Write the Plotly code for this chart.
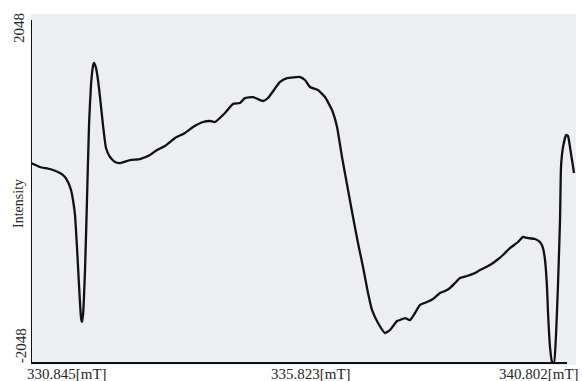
import plotly.graph_objects as go

# Magnetic field [mT] and EPR intensity
field_mT = [
    330.845, 331.009, 331.192, 331.375, 331.466, 331.521, 331.576, 331.612, 331.649, 331.685,
    331.722, 331.759, 331.777, 331.795, 331.832, 331.868, 331.905, 331.941, 331.978, 331.996,
    332.033, 332.069, 332.106, 332.160, 332.215, 332.288, 332.380, 332.471, 332.654, 332.836,
    333.019, 333.147, 333.293, 333.476, 333.659, 333.805, 333.987, 334.115, 334.207, 334.389,
    334.536, 334.663, 334.755, 334.901, 335.084, 335.175, 335.394, 335.522, 335.760, 335.851,
    335.942, 336.088, 336.216, 336.344, 336.436, 336.527, 336.637, 336.728, 336.819, 336.911,
    337.002, 337.075, 337.185, 337.313, 337.404, 337.532, 337.587, 337.678, 337.769, 337.861,
    337.952, 338.080, 338.190, 338.317, 338.409, 338.500, 338.592, 338.683, 338.811, 338.957,
    339.048, 339.231, 339.359, 339.468, 339.596, 339.743, 339.834, 339.907, 340.053, 340.144,
    340.199, 340.236, 340.272, 340.291, 340.327, 340.364, 340.400, 340.437, 340.473, 340.510,
    340.528, 340.565, 340.620, 340.656, 340.692, 340.729, 340.766,
]
intensity = [
    340, 293, 269, 221, 173, 113, 18, -102, -281, -663,
    -1117, -1511, -1558, -1475, -938, -102, 794, 1272, 1499, 1535,
    1475, 1332, 1128, 794, 519, 412, 352, 340, 376, 388,
    436, 496, 543, 639, 699, 770, 830, 842, 830, 937,
    1045, 1057, 1117, 1128, 1081, 1117, 1308, 1355, 1367, 1332,
    1248, 1212, 1128, 973, 770, 412, 18, -305, -615, -902,
    -1212, -1415, -1570, -1690, -1654, -1547, -1535, -1511, -1535, -1451,
    -1355, -1320, -1284, -1212, -1188, -1152, -1093, -1033, -1009, -973,
    -938, -878, -818, -758, -675, -603, -543, -555, -567, -603,
    -675, -818, -1140, -1451, -1857, -2036, -2048, -1714, -1117, -340,
    293, 531, 675, 663, 531, 376, 221,
]

x_min, x_mid, x_max = 330.845, 335.823, 340.802
y_min, y_max = -2048, 2048
x_labels = ["330.845[mT]", "335.823[mT]", "340.802[mT]"]
y_labels = ["2048", "-2048"]
y_title = "Intensity"

serif = "Liberation Serif, Times New Roman, serif"
txt_col = "#262626"

fig = go.Figure()
fig.add_trace(go.Scatter(
    x=field_mT, y=intensity, mode="lines",
    line=dict(color="#111111", width=2.3, shape="spline", smoothing=0.4),
    hoverinfo="skip", showlegend=False,
))

# axis lines (left and bottom) as in the recorder output
fig.add_shape(type="line", xref="x", yref="y", x0=x_min, x1=x_min, y0=y_min, y1=y_max,
              line=dict(color="#111111", width=2))
fig.add_shape(type="line", xref="x", yref="y", x0=x_min, x1=340.638, y0=y_min, y1=y_min,
              line=dict(color="#111111", width=2))

annos = [
    dict(text=y_labels[0], x=-0.022, y=0.960, textangle=-90, xanchor="center", yanchor="middle"),
    dict(text=y_title, x=-0.024, y=0.4615, textangle=-90, xanchor="center", yanchor="middle", size=14),
    dict(text=y_labels[1], x=-0.018, y=0.054, textangle=-90, xanchor="center", yanchor="middle"),
    dict(text=x_labels[0], x=-0.011, y=-0.0256, xanchor="left", yanchor="middle"),
    dict(text=x_labels[1], x=0.5138, y=-0.0256, xanchor="center", yanchor="middle"),
    dict(text=x_labels[2], x=1.0, y=-0.0256, xanchor="right", yanchor="middle", xshift=5),
]
for a in annos:
    size = a.pop("size", 15)
    fig.add_annotation(xref="paper", yref="paper", showarrow=False,
                       font=dict(family=serif, size=size, color=txt_col), **a)

fig.update_layout(
    width=582, height=381,
    margin=dict(l=31, r=6, t=14, b=16),
    paper_bgcolor="white",
    plot_bgcolor="#eceef2",
    xaxis=dict(range=[x_min, x_max], visible=False, fixedrange=True),
    yaxis=dict(range=[-2072, 2120], visible=False, fixedrange=True),
)

fig.write_html(
    "out.html",
    config={"displayModeBar": False},
    post_script="document.body.style.margin='0';document.body.style.overflow='hidden';",
)
